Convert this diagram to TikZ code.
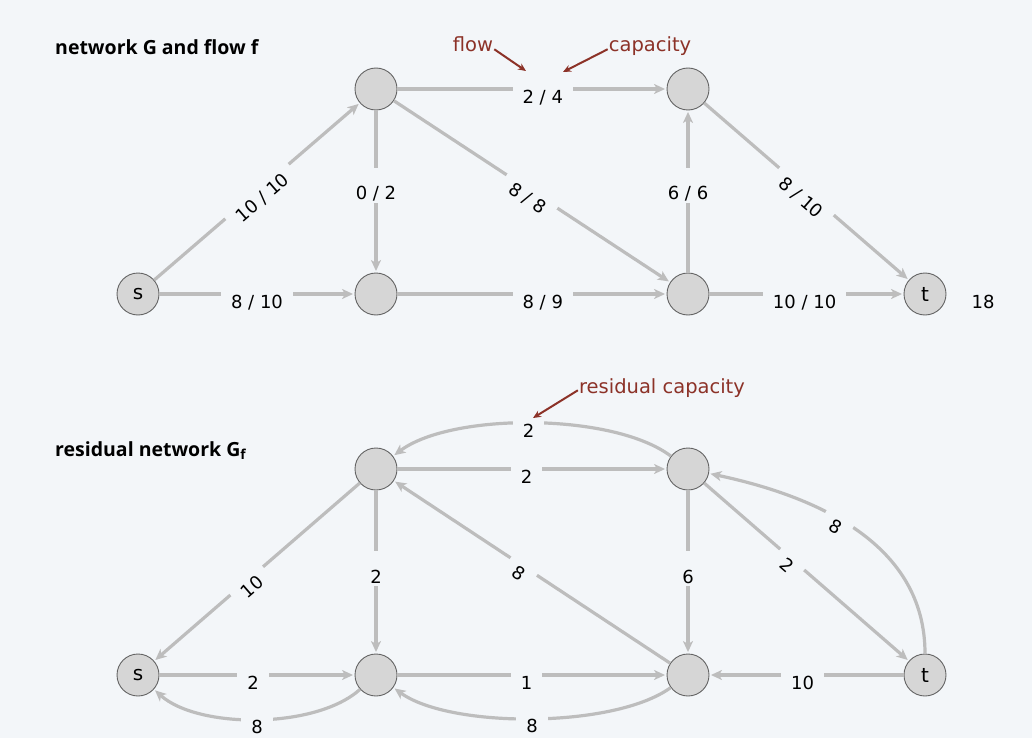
\documentclass[tikz,border=0pt]{standalone}
\usepackage{fontspec}
\setmainfont{DejaVu Sans}
\newfontfamily\titlefont{Open Sans}
\usetikzlibrary{arrows.meta}
\definecolor{bg}{RGB}{243,246,249}
\definecolor{nodefill}{RGB}{214,214,214}
\definecolor{nodedraw}{RGB}{100,100,100}
\definecolor{edgecol}{RGB}{189,189,189}
\definecolor{annot}{RGB}{140,50,40}
\begin{document}
\begin{tikzpicture}[x=1pt,y=1pt,
  vtx/.style={circle,fill=nodefill,draw=nodedraw,line width=0.9pt,minimum size=42pt,inner sep=0pt,font=\fontsize{20}{22}\selectfont},
  edge/.style={draw=edgecol,line width=3.2pt,-{Stealth[length=11pt,width=10pt,inset=3pt]},shorten >=1.5pt},
  lbl/.style={fill=bg,inner xsep=10pt,inner ysep=3pt,text height=29pt,text depth=0pt,font=\fontsize{18}{20}\selectfont},
  ttl/.style={anchor=base west,inner sep=0pt,font=\titlefont\bfseries\fontsize{19.5}{22}\selectfont},
  annottext/.style={text=annot,inner sep=1pt,font=\fontsize{19.5}{22}\selectfont},
  annotarrow/.style={draw=annot,line width=2pt,-{Stealth[length=8pt,width=7pt]}}
]
\fill[bg] (0,0) rectangle (1032,-738);
\useasboundingbox (0,0) rectangle (1032,-738);

% ---------- network G and flow f ----------
\node[ttl] (title1) at (55,-55) {network G and flow f};

\node[vtx] (s1) at (138,-294) {s};
\node[vtx] (a1) at (376,-89) {};
\node[vtx] (b1) at (376,-294) {};
\node[vtx] (c1) at (688,-89) {};
\node[vtx] (d1) at (688,-294) {};
\node[vtx] (t1) at (925,-294) {t};

\draw[edge] (s1) -- node[lbl,sloped] {10 / 10} (a1);
\draw[edge] (s1) -- node[lbl] {8 / 10} (b1);
\draw[edge] (a1) -- node[lbl,pos=0.46] {0 / 2} (b1);
\draw[edge] (a1) -- node[lbl,pos=0.54] {2 / 4} (c1);
\draw[edge] (a1) -- node[lbl,sloped] {8 / 8} (d1);
\draw[edge] (b1) -- node[lbl,pos=0.54] {8 / 9} (d1);
\draw[edge] (d1) -- node[lbl,pos=0.54] {6 / 6} (c1);
\draw[edge] (c1) -- node[lbl,sloped] {8 / 10} (t1);
\draw[edge] (d1) -- node[lbl,pos=0.49] {10 / 10} (t1);
\node[font=\fontsize{18}{20}\selectfont] (val) at (983,-302) {18};

\node[annottext,anchor=base] (flowlbl) at (473,-52) {flow};
\node[annottext,anchor=base] (caplbl) at (650,-52) {capacity};
\coordinate (flowtip) at (526,-71);
\coordinate (captip) at (563,-72);
\draw[annotarrow] (flowlbl.mid east) -- (flowtip);
\draw[annotarrow] (caplbl.mid west) -- (captip);

% ---------- residual network ----------
\node[ttl] (title2) at (55,-456) {residual network G\textsubscript{f}};

\node[vtx] (s2) at (138,-675) {s};
\node[vtx] (a2) at (376,-469) {};
\node[vtx] (b2) at (376,-675) {};
\node[vtx] (c2) at (688,-469) {};
\node[vtx] (d2) at (688,-675) {};
\node[vtx] (t2) at (925,-675) {t};

\draw[edge] (a2) -- node[lbl,sloped,pos=0.55] {10} (s2);
\draw[edge] (s2) -- node[lbl,pos=0.48] {2} (b2);
\draw[edge] (b2) to[bend left=42,looseness=0.74] node[lbl] {8} (s2);
\draw[edge] (a2) -- node[lbl,pos=0.48] {2} (b2);
\draw[edge] (a2) -- node[lbl,pos=0.48] {2} (c2);
\draw[edge] (c2) to[bend right=37,looseness=0.67] node[lbl,pos=0.51] {2} (a2);
\draw[edge] (d2) -- node[lbl,sloped,pos=0.53] {8} (a2);
\draw[edge] (b2) -- node[lbl,pos=0.48] {1} (d2);
\draw[edge] (d2) to[bend left=36,looseness=0.645] node[lbl] {8} (b2);
\draw[edge] (c2) -- node[lbl,pos=0.48] {6} (d2);
\draw[edge] (c2) -- node[lbl,sloped,pos=0.43] {2} (t2);
\draw[edge] (t2) to[out=90,in=-12] node[lbl,sloped,pos=0.57] {8} (c2);
\draw[edge] (t2) -- node[lbl,pos=0.52] {10} (d2);

\node[annottext,anchor=base] (rcap) at (662,-393) {residual capacity};
\coordinate (rcaptip) at (533,-418);
\draw[annotarrow] (rcap.mid west) -- (rcaptip);
\end{tikzpicture}
\end{document}
